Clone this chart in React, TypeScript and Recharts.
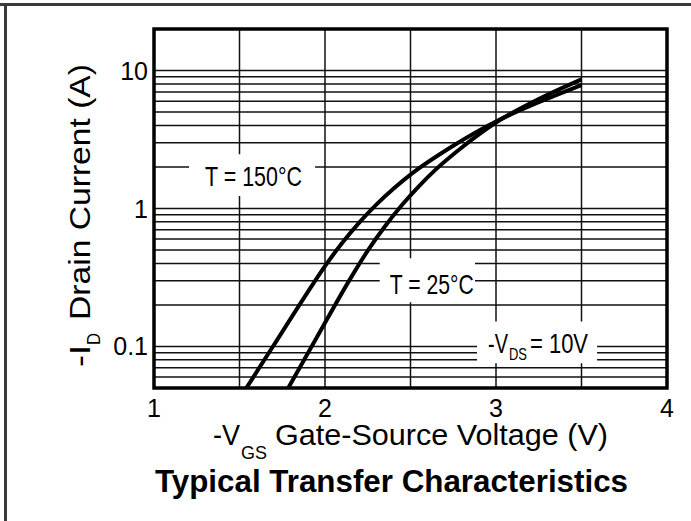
import React from 'react';
import { LineChart, Line, XAxis, YAxis, CartesianGrid, ReferenceArea } from 'recharts';

// -VGS (V) vs -ID (A)
const VGS_150 = [1.54, 1.7, 1.9, 2.0, 2.1, 2.2, 2.3, 2.4, 2.5, 2.75, 3.0, 3.25, 3.5];
const ID_150 = [0.05, 0.102, 0.249, 0.382, 0.562, 0.791, 1.067, 1.39, 1.76, 2.85, 4.27, 5.89, 7.85];

const VGS_25 = [1.785, 1.95, 2.15, 2.25, 2.35, 2.45, 2.55, 2.65, 2.8, 3.0, 3.25, 3.5];
const ID_25 = [0.05, 0.115, 0.313, 0.495, 0.741, 1.06, 1.455, 1.93, 2.77, 4.2, 6.21, 8.63];

const X_DOMAIN = [1, 4];
const X_TICKS = [1, 1.5, 2, 2.5, 3, 3.5, 4];
const X_LABELS = [1, 2, 3, 4];

const Y_DOMAIN = [0.05, 20];
const Y_TICKS = [
  0.06, 0.07, 0.08, 0.09, 0.1,
  0.2, 0.3, 0.4, 0.5, 0.6, 0.7, 0.8, 0.9, 1,
  2, 3, 4, 5, 6, 7, 8, 9, 10,
];
const Y_LABELS = [0.1, 1, 10];

const FONT = "'Liberation Sans', Arial, Helvetica, sans-serif";

const series150 = VGS_150.map((v, i) => ({ v, id: ID_150[i] }));
const series25 = VGS_25.map((v, i) => ({ v, id: ID_25[i] }));

type Piece = { text: string; dx: number; dy: number; size: number; len: number };

// white boxes that break the grid behind the in-plot notes
const NOTES: { x: [number, number]; y: [number, number]; pieces: Piece[] }[] = [
  {
    x: [1.205, 1.942],
    y: [1.23, 2.47],
    pieces: [{ text: 'T = 150°C', dx: 16, dy: 32, size: 28, len: 97 }],
  },
  {
    x: [2.32, 2.877],
    y: [0.209, 0.436],
    pieces: [{ text: 'T = 25°C', dx: 10, dy: 36, size: 28, len: 84 }],
  },
  {
    x: [2.889, 3.591],
    y: [0.0757, 0.152],
    pieces: [
      { text: '-V', dx: 11, dy: 32, size: 28, len: 20 },
      { text: 'DS', dx: 32, dy: 39, size: 17, len: 18 },
      { text: '= 10V', dx: 53, dy: 32, size: 28, len: 58 },
    ],
  },
];

const XTick = ({ x, y, payload }: any) => {
  if (!X_LABELS.includes(payload.value)) return null;
  return (
    <text x={x} y={y + 29} textAnchor="middle" fontFamily={FONT} fontSize={25} fill="#000">
      {payload.value}
    </text>
  );
};

const YTick = ({ x, y, payload }: any) => {
  if (!Y_LABELS.includes(payload.value)) return null;
  return (
    <text x={x - 6} y={y + 9} textAnchor="end" fontFamily={FONT} fontSize={25} fill="#000">
      {payload.value}
    </text>
  );
};

const noteLabel = (pieces: Piece[]) => (props: any) => {
  const vb = props.viewBox;
  return (
    <g>
      {pieces.map((p) => (
        <text
          key={p.text}
          x={vb.x + p.dx}
          y={vb.y + p.dy}
          fontFamily={FONT}
          fontSize={p.size}
          textLength={p.len}
          lengthAdjust="spacingAndGlyphs"
          fill="#000"
        >
          {p.text}
        </text>
      ))}
    </g>
  );
};

export default function App() {
  return (
    <div style={{ position: 'absolute', left: 0, top: 0, width: 691, height: 521, background: '#fff' }}>
      <LineChart
        width={691}
        height={521}
        margin={{ top: 29, right: 24, left: 0, bottom: 0 }}
      >
        <CartesianGrid stroke="#111" strokeWidth={1.5} />
        <XAxis
          type="number"
          dataKey="v"
          domain={X_DOMAIN}
          ticks={X_TICKS}
          allowDataOverflow
          axisLine={false}
          tickLine={false}
          tickSize={0}
          tickMargin={0}
          height={133}
          tick={<XTick />}
          interval={0}
        />
        <YAxis
          type="number"
          scale="log"
          domain={Y_DOMAIN}
          ticks={Y_TICKS}
          allowDataOverflow
          axisLine={false}
          tickLine={false}
          tickSize={0}
          tickMargin={0}
          width={154}
          tick={<YTick />}
          interval={0}
        />
        {NOTES.map((n, i) => (
          <ReferenceArea
            key={i}
            x1={n.x[0]}
            x2={n.x[1]}
            y1={n.y[0]}
            y2={n.y[1]}
            fill="#fff"
            fillOpacity={1}
            stroke="none"
            label={noteLabel(n.pieces)}
          />
        ))}
        <ReferenceArea
          x1={X_DOMAIN[0]}
          x2={X_DOMAIN[1]}
          y1={Y_DOMAIN[0]}
          y2={Y_DOMAIN[1]}
          fill="none"
          stroke="#000"
          strokeWidth={3.5}
        />
        <Line
          data={series150}
          dataKey="id"
          type="monotone"
          stroke="#000"
          strokeWidth={4}
          dot={false}
          isAnimationActive={false}
        />
        <Line
          data={series25}
          dataKey="id"
          type="monotone"
          stroke="#000"
          strokeWidth={4}
          dot={false}
          isAnimationActive={false}
        />
      </LineChart>

      <svg
        width={691}
        height={521}
        style={{ position: 'absolute', left: 0, top: 0, pointerEvents: 'none' }}
      >
        {/* outer panel border */}
        <line x1={0} y1={4.5} x2={691} y2={4.5} stroke="#3a3a3a" strokeWidth={3} />
        <line x1={5.5} y1={3} x2={5.5} y2={521} stroke="#3a3a3a" strokeWidth={3} />

        {/* y axis title */}
        <g transform="translate(90, 367) rotate(-90)" fontFamily={FONT} fill="#000">
          <text x={0} y={0} fontSize={30} textLength={22} lengthAdjust="spacingAndGlyphs">-I</text>
          <text x={22} y={10} fontSize={18} textLength={12} lengthAdjust="spacingAndGlyphs">D</text>
          <text x={47} y={0} fontSize={30} textLength={256} lengthAdjust="spacingAndGlyphs">
            Drain Current (A)
          </text>
        </g>

        {/* x axis title */}
        <g fontFamily={FONT} fill="#000">
          <text x={213} y={445} fontSize={30} textLength={27} lengthAdjust="spacingAndGlyphs">-V</text>
          <text x={241} y={459} fontSize={18} textLength={26} lengthAdjust="spacingAndGlyphs">GS</text>
          <text x={275} y={445} fontSize={30} textLength={333} lengthAdjust="spacingAndGlyphs">
            Gate-Source Voltage (V)
          </text>
        </g>

        <text
          x={155}
          y={492}
          fontFamily={FONT}
          fontWeight="bold"
          fontSize={31}
          textLength={473}
          lengthAdjust="spacingAndGlyphs"
          fill="#000"
        >
          Typical Transfer Characteristics
        </text>
      </svg>
    </div>
  );
}
